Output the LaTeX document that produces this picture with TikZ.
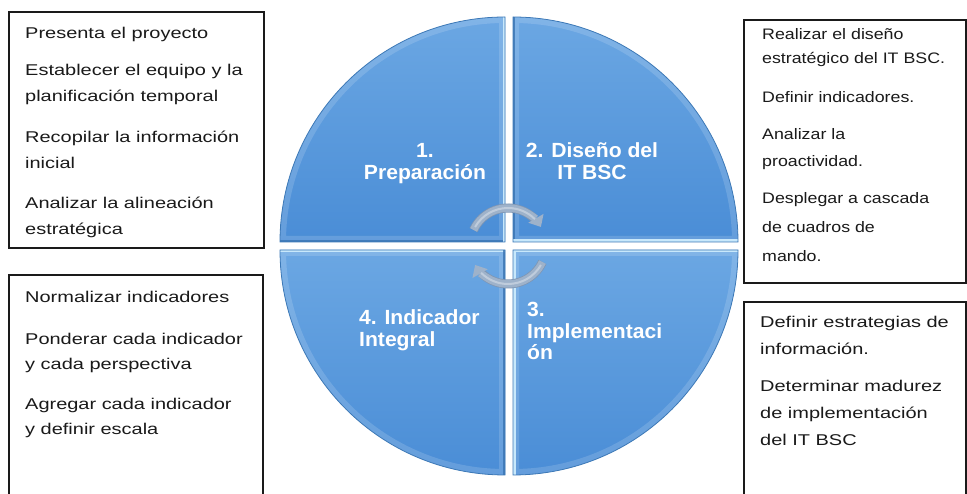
\documentclass[tikz,border=0pt]{standalone}
\usepackage{fontspec}
\setmainfont{Liberation Sans}
\newfontfamily\fa[FakeStretch=1.28]{Liberation Sans}
\newfontfamily\fb[FakeStretch=1.17]{Liberation Sans}
\newfontfamily\fq[FakeStretch=1.03]{Liberation Sans}
\usetikzlibrary{arrows.meta,calc}
\definecolor{txt}{HTML}{1A1A1A}
\definecolor{qtop}{HTML}{6BA7E3}
\definecolor{qbot}{HTML}{4A8DD6}
\definecolor{qedge}{HTML}{3C78B6}
\definecolor{qlight}{HTML}{C8E8FB}
\definecolor{qdark}{HTML}{3A74B2}
\definecolor{arr}{HTML}{9EB2CA}
\definecolor{arrd}{HTML}{7F96B3}
\begin{document}
\begin{tikzpicture}[x=1pt,y=1pt,
  boxline/.style={draw=txt,line width=1.3pt},
  ptxtA/.style={anchor=base west,inner sep=0pt,align=left,text=txt,font=\fa\fontsize{15.6}{26}\selectfont},
  ptxtB/.style={anchor=base west,inner sep=0pt,align=left,text=txt,font=\fb\fontsize{15.2}{26}\selectfont},
  qtxt/.style={inner sep=0pt,text=white,font=\fq\bfseries\fontsize{20.5}{22}\selectfont},
  rim/.style={line width=12pt,white,opacity=.15},
  hl/.style={line width=5pt,qlight},
  dk/.style={line width=4pt,qdark,opacity=.8},
  arrowband/.style={line width=7.5pt,arr,-{Triangle[width=17pt,length=10pt]}}
]
\useasboundingbox (0,0) rectangle (967,494);
\fill[white] (0,0) rectangle (967,494);

% ---------- quadrants ----------
% Q1 upper-left
\begin{scope}
\clip (505,252) -- (280,252) arc[start angle=180,end angle=90,radius=225] -- cycle;
\shade[top color=qtop,bottom color=qbot] (505,252) -- (280,252) arc[start angle=180,end angle=90,radius=225] -- cycle;
\draw[rim] (505,252) -- (280,252) arc[start angle=180,end angle=90,radius=225] -- cycle;
\draw[dk] (280,252) -- (505,252);
\draw[hl] (505,252) -- (505,477);
\end{scope}
\draw[qedge,line width=.8pt] (505,252) -- (280,252) arc[start angle=180,end angle=90,radius=225] -- cycle;
% Q2 upper-right
\begin{scope}
\clip (513,252) -- (513,477) arc[start angle=90,end angle=0,radius=225] -- cycle;
\shade[top color=qtop,bottom color=qbot] (513,252) -- (513,477) arc[start angle=90,end angle=0,radius=225] -- cycle;
\draw[rim] (513,252) -- (513,477) arc[start angle=90,end angle=0,radius=225] -- cycle;
\draw[dk] (513,252) -- (513,477);
\draw[hl] (513,252) -- (738,252);
\end{scope}
\draw[qedge,line width=.8pt] (513,252) -- (513,477) arc[start angle=90,end angle=0,radius=225] -- cycle;
% Q3 lower-right
\begin{scope}
\clip (513,244) -- (738,244) arc[start angle=0,end angle=-90,radius=225] -- cycle;
\shade[top color=qtop,bottom color=qbot] (513,244) -- (738,244) arc[start angle=0,end angle=-90,radius=225] -- cycle;
\draw[rim] (513,244) -- (738,244) arc[start angle=0,end angle=-90,radius=225] -- cycle;
\draw[hl] (513,244) -- (738,244);
\draw[hl] (513,244) -- (513,19);
\end{scope}
\draw[qedge,line width=.8pt] (513,244) -- (738,244) arc[start angle=0,end angle=-90,radius=225] -- cycle;
% Q4 lower-left
\begin{scope}
\clip (505,244) -- (505,19) arc[start angle=270,end angle=180,radius=225] -- cycle;
\shade[top color=qtop,bottom color=qbot] (505,244) -- (505,19) arc[start angle=270,end angle=180,radius=225] -- cycle;
\draw[rim] (505,244) -- (505,19) arc[start angle=270,end angle=180,radius=225] -- cycle;
\draw[hl] (280,244) -- (505,244);
\draw[dk] (505,244) -- (505,19);
\end{scope}
\draw[qedge,line width=.8pt] (505,244) -- (505,19) arc[start angle=270,end angle=180,radius=225] -- cycle;

% ---------- quadrant labels (anchored at last baseline) ----------
\node[qtxt,anchor=base,align=center] (q1) at (425,314) {1.\\Preparación};
\node[qtxt,anchor=base,align=center] (q2) at (592,314) {2. Diseño del\\IT BSC};
\node[qtxt,anchor=base west,align=left] (q4) at (359,147) {4. Indicador\\Integral};
\node[qtxt,anchor=base west,align=left,font=\fq\bfseries\fontsize{20.5}{21.5}\selectfont] (q3) at (527,134) {3.\\Implementaci\\ón};

% ---------- central cycle arrows ----------
\coordinate (cc) at (508,248);
\draw[line width=9pt,arrd] ($(cc)+(155:38)$) arc[start angle=155,end angle=45,radius=38];
\draw[line width=9pt,arrd] ($(cc)+(-25:38)$) arc[start angle=-25,end angle=-135,radius=38];
\draw[arrowband] ($(cc)+(155:38)$) arc[start angle=155,end angle=30,radius=38];
\draw[arrowband] ($(cc)+(-25:38)$) arc[start angle=-25,end angle=-150,radius=38];
\draw[line width=2pt,white,opacity=.35] ($(cc)+(150:38)$) arc[start angle=150,end angle=45,radius=38];
\draw[line width=2pt,white,opacity=.35] ($(cc)+(-30:38)$) arc[start angle=-30,end angle=-135,radius=38];

% ---------- boxes ----------
\draw[boxline] (9,482) rectangle (264,246);
\draw[boxline] (744,474) rectangle (966,211);
\coordinate (blb) at (9,-2);
\coordinate (brb) at (263,-2);
\draw[boxline] (blb) -- (9,219) -- (263,219) -- (brb);
\coordinate (rlb) at (744,-2);
\coordinate (rrb) at (966,-2);
\draw[boxline] (rlb) -- (744,192) -- (966,192) -- (rrb);

% top-left text
\node[ptxtA] (tl1) at (25,455) {Presenta el proyecto};
\node[ptxtA] (tl2) at (25,392) {Establecer el equipo y la\\planificación temporal};
\node[ptxtA] (tl3) at (25,325) {Recopilar la información\\inicial};
\node[ptxtA] (tl4) at (25,259) {Analizar la alineación\\estratégica};

% top-right text
\node[ptxtB,font=\fb\fontsize{15.2}{24}\selectfont] (tr1) at (762,430) {Realizar el diseño\\estratégico del IT BSC.};
\node[ptxtB] (tr2) at (762,391) {Definir indicadores.};
\node[ptxtB,font=\fb\fontsize{15.2}{27}\selectfont] (tr3) at (762,327) {Analizar la\\proactividad.};
\node[ptxtB,font=\fb\fontsize{15.2}{29}\selectfont] (tr4) at (762,232) {Desplegar a cascada\\de cuadros de\\mando.};

% bottom-left text
\node[ptxtA] (bl1) at (25,191) {Normalizar indicadores};
\node[ptxtA,font=\fa\fontsize{15.6}{25}\selectfont] (bl2) at (25,124) {Ponderar cada indicador\\y cada perspectiva};
\node[ptxtA,font=\fa\fontsize{15.6}{25}\selectfont] (bl3) at (25,59) {Agregar cada indicador\\y definir escala};

% bottom-right text
\node[ptxtA,font=\fa\fontsize{15.6}{27}\selectfont] (br1) at (760,139) {Definir estrategias de\\información.};
\node[ptxtA,font=\fa\fontsize{15.6}{27}\selectfont] (br2) at (760,48) {Determinar madurez\\de implementación\\del IT BSC};
\end{tikzpicture}
\end{document}
